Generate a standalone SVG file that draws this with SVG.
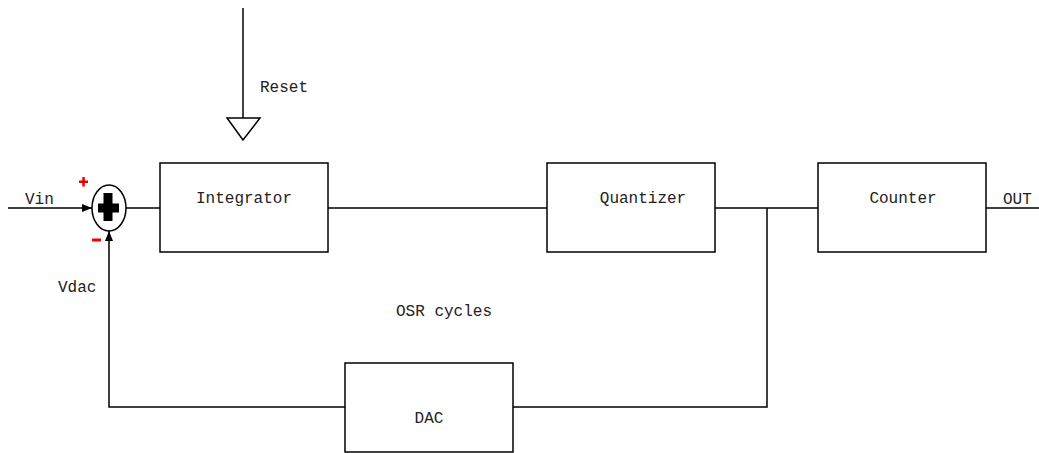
<svg xmlns="http://www.w3.org/2000/svg" width="1039" height="453" viewBox="0 0 1039 453">
  <style>
    .blk { fill: #fff; stroke: #000; stroke-width: 1.5; }
    .wire { fill: none; stroke: #000; stroke-width: 1.5; }
    .lbl { font-family: "Liberation Mono", "DejaVu Sans Mono", monospace; font-size: 16px; fill: #222; }
    .sign { fill: #e00; }
  </style>
  <defs>
    <marker id="arr" viewBox="0 0 10 10" refX="10" refY="5" markerWidth="10" markerHeight="10" markerUnits="userSpaceOnUse" orient="auto">
      <path d="M0,1 L10,5 L0,9 Z" fill="#000"/>
    </marker>
  </defs>

  <g id="connectors">
    <line class="wire" x1="8" y1="208" x2="92" y2="208" marker-end="url(#arr)"/>
    <line class="wire" x1="126" y1="208" x2="160" y2="208"/>
    <line class="wire" x1="328" y1="208" x2="547" y2="208"/>
    <line class="wire" x1="715" y1="208" x2="818" y2="208"/>
    <line class="wire" x1="986" y1="208" x2="1039" y2="208"/>
    <polyline class="wire" points="767,208 767,407 513,407"/>
    <polyline class="wire" points="345,407 109,407 109,231" marker-end="url(#arr)"/>
    <line class="wire" x1="243" y1="8" x2="243" y2="118"/>
  </g>

  <g id="reset">
    <polygon points="227,118 260,118 243,140" fill="#fff" stroke="#000" stroke-width="1.5"/>
    <text class="lbl" x="260" y="92">Reset</text>
  </g>

  <g id="sum">
    <ellipse cx="109" cy="208" rx="17" ry="23" fill="#fff" stroke="#000" stroke-width="1.5"/>
    <rect x="103.5" y="193" width="9" height="28" fill="#000"/>
    <rect x="98" y="203.5" width="21" height="9" fill="#000"/>
    <!-- polarity marks -->
    <rect class="sign" x="79" y="180.5" width="9" height="2.5"/>
    <rect class="sign" x="82.3" y="177" width="2.5" height="9.5"/>
    <rect class="sign" x="92" y="238.5" width="9" height="3"/>
  </g>

  <g id="labels">
    <text class="lbl" x="25" y="204">Vin</text>
    <text class="lbl" x="58" y="292">Vdac</text>
    <text class="lbl" x="396" y="316">OSR cycles</text>
    <text class="lbl" x="1003" y="204">OUT</text>
  </g>

  <g id="integrator">
    <rect class="blk" x="160" y="163" width="168" height="89"/>
    <text class="lbl" x="244" y="203" text-anchor="middle">Integrator</text>
  </g>

  <g id="quantizer">
    <rect class="blk" x="547" y="163" width="168" height="89"/>
    <text class="lbl" x="643" y="203" text-anchor="middle">Quantizer</text>
  </g>

  <g id="counter">
    <rect class="blk" x="818" y="163" width="168" height="89"/>
    <text class="lbl" x="903" y="203" text-anchor="middle">Counter</text>
  </g>

  <g id="dac">
    <rect class="blk" x="345" y="363" width="168" height="89"/>
    <text class="lbl" x="429" y="423" text-anchor="middle">DAC</text>
  </g>
</svg>
